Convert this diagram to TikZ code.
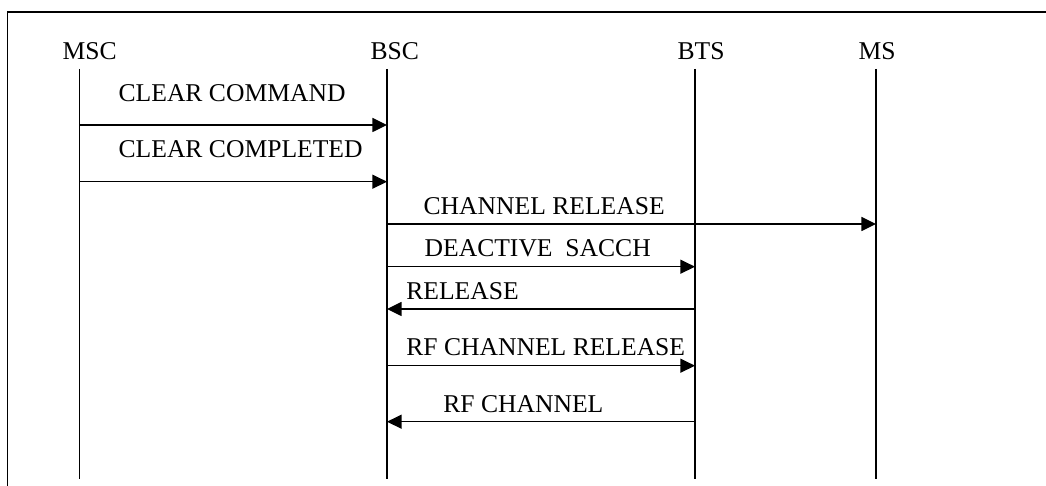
\documentclass[tikz,border=0pt]{standalone}
\usepackage{fontspec}
\setmainfont{Liberation Serif}
\usetikzlibrary{arrows.meta}
\begin{document}
\begin{tikzpicture}[x=0.5pt,y=-0.5pt,line width=0.65pt,
    msg/.style={-{Triangle[length=7.3pt,width=7pt]}},
    lbl/.style={anchor=base west,inner sep=0pt,font=\fontsize{12.8}{15}\selectfont}]
    \useasboundingbox(0,0)rectangle(1046,486);
    \draw(7.5,486)--(7.5,12)--(1046,12);
    \foreach \name/\x/\lx/\txt in {msc/79.5/62/MSC,bsc/387/370/BSC,bts/695/677/BTS,ms/876/858/MS}{
        \node[lbl](\name)at(\lx,60){\txt};
        \coordinate(\name top)at(\x,69);
        \coordinate(\name bot)at(\x,479);
        \draw(\name top)--(\name bot);
    }
    \foreach \y/\from/\to/\lx/\ly/\txt[count=\i] in {
        125/79.5/387/118/102/CLEAR COMMAND,
        181.7/79.5/387/118/158/CLEAR COMPLETED,
        224/387/876/423/215/CHANNEL RELEASE,
        266.7/387/695/424/257/DEACTIVE\ \ SACCH,
        309/695/387/405.7/300/RELEASE,
        365.7/387/695/405.7/356/RF CHANNEL RELEASE,
        421.7/695/387/442.7/412.7/RF CHANNEL}{
        \coordinate(s\i)at(\from,\y);
        \coordinate(e\i)at(\to,\y);
        \draw[msg](s\i)--(e\i);
        \node[lbl](l\i)at(\lx,\ly){\txt};
    }
\end{tikzpicture}
\end{document}
